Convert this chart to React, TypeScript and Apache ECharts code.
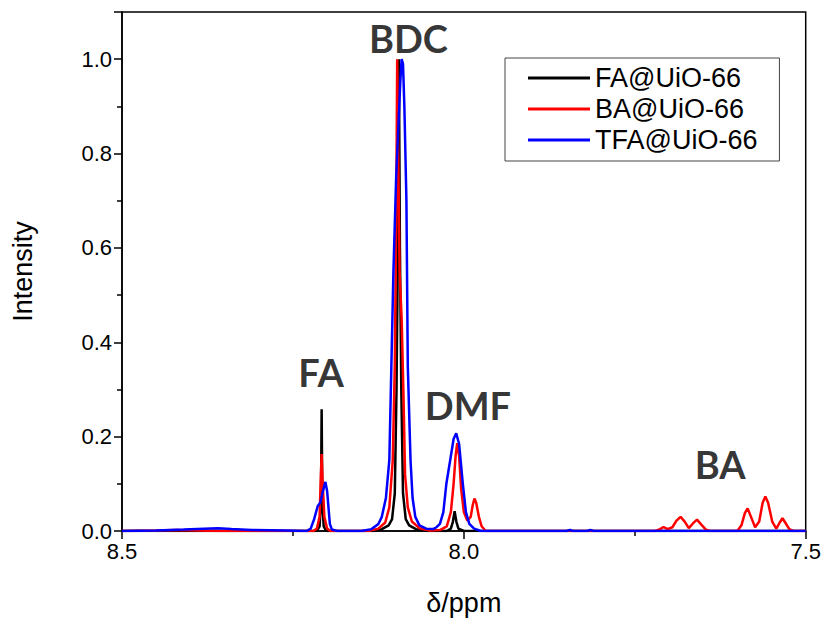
import React, { useEffect, useRef } from "react";
import * as echarts from "echarts";

// 1H NMR spectra of the digested MOF samples: [δ (ppm), normalised intensity]
const seriesNames = ["FA@UiO-66", "BA@UiO-66", "TFA@UiO-66"];
const seriesColors = ["#000000", "#ff0000", "#0000ff"];

const faUio66: [number, number][] = [
  [8.5, 0], [8.215, 0], [8.211, 0.01], [8.209, 0.06], [8.208, 0.258], [8.207, 0.06], [8.205, 0.01], [8.201, 0],
  [8.13, 0], [8.12, 0.004], [8.11, 0.012], [8.105, 0.025], [8.101, 0.08], [8.0985, 0.3], [8.0965, 0.6],
  [8.095, 1.0], [8.0935, 0.6], [8.0915, 0.3], [8.089, 0.08], [8.085, 0.025], [8.08, 0.012], [8.07, 0.004], [8.055, 0],
  [8.025, 0], [8.019, 0.005], [8.016, 0.02], [8.0135, 0.042], [8.011, 0.02], [8.008, 0.005], [8.0, 0],
  [7.5, 0],
];

const baUio66: [number, number][] = [
  [8.5, 0], [8.45, 0.001], [8.42, 0.002], [8.39, 0.001], [8.35, 0],
  [8.22, 0], [8.215, 0.005], [8.211, 0.03], [8.2095, 0.1], [8.208, 0.163], [8.2065, 0.1], [8.204, 0.03], [8.2, 0.005], [8.195, 0],
  [8.14, 0], [8.125, 0.005], [8.115, 0.018], [8.109, 0.05], [8.104, 0.15], [8.101, 0.35], [8.099, 0.65],
  [8.0975, 1.0], [8.096, 0.8], [8.094, 0.55], [8.091, 0.45], [8.0885, 0.3], [8.086, 0.12], [8.082, 0.05],
  [8.076, 0.02], [8.065, 0.006], [8.05, 0.001],
  [8.035, 0.002], [8.025, 0.01], [8.019, 0.04], [8.015, 0.1], [8.012, 0.16], [8.0097, 0.186], [8.007, 0.16],
  [8.004, 0.09], [8.0, 0.04], [7.995, 0.022], [7.99, 0.03], [7.987, 0.055], [7.9845, 0.069], [7.982, 0.06],
  [7.978, 0.03], [7.974, 0.01], [7.968, 0],
  [7.72, 0], [7.713, 0.004], [7.708, 0.0085], [7.702, 0.004], [7.695, 0.008], [7.689, 0.022], [7.683, 0.03],
  [7.677, 0.02], [7.671, 0.006], [7.665, 0.016], [7.659, 0.024], [7.653, 0.014], [7.646, 0.003], [7.64, 0],
  [7.6, 0], [7.594, 0.012], [7.589, 0.038], [7.585, 0.048], [7.58, 0.03], [7.574, 0.008], [7.568, 0.02],
  [7.563, 0.06], [7.559, 0.073], [7.555, 0.06], [7.549, 0.02], [7.543, 0.005], [7.538, 0.018], [7.534, 0.027],
  [7.53, 0.018], [7.524, 0.004], [7.518, 0], [7.5, 0],
];

const tfaUio66: [number, number][] = [
  [8.5, 0], [8.45, 0.001], [8.41, 0.003], [8.38, 0.005], [8.36, 0.006], [8.34, 0.004], [8.31, 0.002], [8.26, 0.001],
  [8.23, 0], [8.224, 0.005], [8.219, 0.025], [8.2137, 0.053], [8.21, 0.06], [8.206, 0.085], [8.2025, 0.104],
  [8.2, 0.085], [8.198, 0.05], [8.196, 0.015], [8.193, 0.003], [8.185, 0],
  [8.15, 0], [8.135, 0.004], [8.125, 0.015], [8.12, 0.03], [8.114, 0.07], [8.109, 0.15], [8.106, 0.35],
  [8.103, 0.55], [8.099, 0.75], [8.093, 0.95], [8.091, 1.0], [8.089, 0.99], [8.087, 0.9], [8.084, 0.7],
  [8.082, 0.35], [8.078, 0.15], [8.075, 0.07], [8.071, 0.03], [8.065, 0.012], [8.055, 0.005], [8.045, 0.004],
  [8.04, 0.008], [8.035, 0.015], [8.03, 0.04], [8.0256, 0.1], [8.02, 0.15], [8.015, 0.195], [8.0112, 0.207],
  [8.007, 0.185], [8.0015, 0.1], [7.997, 0.04], [7.992, 0.015], [7.985, 0.005], [7.975, 0],
  [7.85, 0], [7.845, 0.002], [7.84, 0], [7.82, 0], [7.815, 0.002], [7.81, 0], [7.5, 0],
];

// Peak assignments: [δ (ppm), intensity, label]
const peakLabels: [number, number, string][] = [
  [8.081, 1.045, "BDC"],
  [8.209, 0.337, "FA"],
  [7.994, 0.267, "DMF"],
  [7.625, 0.142, "BA"],
];

const xTicks = { min: 7.5, max: 8.5, interval: 0.5 };
const yTicks = { min: 0, max: 1.1, interval: 0.2 };

const tickFont = "'Liberation Sans', Arial, sans-serif";

export default function App() {
  const ref = useRef<HTMLDivElement>(null);

  useEffect(() => {
    if (!ref.current) return;
    const chart = echarts.init(ref.current, undefined, { renderer: "svg" });

    const spectra = [faUio66, baUio66, tfaUio66].map((data, i) => ({
      name: seriesNames[i],
      type: "line" as const,
      data,
      symbol: "none",
      lineStyle: { color: seriesColors[i], width: 2.5 },
      itemStyle: { color: seriesColors[i] },
      z: 2 + i,
    }));

    chart.setOption({
      animation: false,
      backgroundColor: "#ffffff",
      grid: {
        left: 122,
        right: 14,
        top: 12,
        bottom: 88,
        show: true,
        borderColor: "#000",
        borderWidth: 1.5,
      },
      legend: {
        data: seriesNames,
        orient: "vertical",
        left: 505,
        top: 58,
        borderColor: "#444",
        borderWidth: 1,
        padding: [5, 22, 6, 23],
        icon: "rect",
        itemWidth: 62,
        itemHeight: 3,
        itemGap: 1,
        selectedMode: false,
        textStyle: { fontFamily: tickFont, fontSize: 27, color: "#000", lineHeight: 30 },
      },
      xAxis: {
        type: "value",
        inverse: true,
        min: xTicks.min,
        max: xTicks.max,
        interval: xTicks.interval,
        name: "δ/ppm",
        nameLocation: "middle",
        nameGap: 58,
        nameTextStyle: { fontFamily: tickFont, fontSize: 27, color: "#000" },
        axisLine: { lineStyle: { color: "#000", width: 1.5 } },
        axisTick: { show: true, inside: false, length: 8, lineStyle: { color: "#000", width: 1.5 } },
        minorTick: { show: true, splitNumber: 2, length: 5, lineStyle: { color: "#000", width: 1.5 } },
        splitLine: { show: false },
        axisLabel: {
          fontFamily: tickFont,
          fontSize: 22,
          color: "#000",
          margin: 9,
          formatter: (v: number) => v.toFixed(1),
        },
      },
      yAxis: {
        type: "value",
        min: yTicks.min,
        max: yTicks.max,
        interval: yTicks.interval,
        name: "Intensity",
        nameLocation: "middle",
        nameRotate: 90,
        nameGap: 86,
        nameTextStyle: { fontFamily: tickFont, fontSize: 27, color: "#000" },
        axisLine: { lineStyle: { color: "#000", width: 1.5 } },
        axisTick: { show: true, inside: false, length: 8, lineStyle: { color: "#000", width: 1.5 } },
        minorTick: { show: true, splitNumber: 2, length: 5, lineStyle: { color: "#000", width: 1.5 } },
        splitLine: { show: false },
        axisLabel: {
          fontFamily: tickFont,
          fontSize: 22,
          color: "#000",
          margin: 10,
          showMaxLabel: false,
          formatter: (v: number) => v.toFixed(1),
        },
      },
      series: [
        ...spectra,
        {
          name: "labels",
          type: "scatter",
          data: peakLabels.map(([x, y, t]) => ({ value: [x, y], name: t })),
          symbolSize: 0,
          z: 10,
          label: {
            show: true,
            position: "inside",
            formatter: (p: any) => p.name,
            fontFamily: "Lato, 'Open Sans', sans-serif",
            fontWeight: "bold",
            fontSize: 38,
            color: "#000",
          },
          tooltip: { show: false },
        },
      ],
    });

    return () => chart.dispose();
  }, []);

  return (
    <div
      ref={ref}
      style={{ position: "fixed", left: 0, top: 0, width: 824, height: 621, background: "#fff" }}
    />
  );
}
